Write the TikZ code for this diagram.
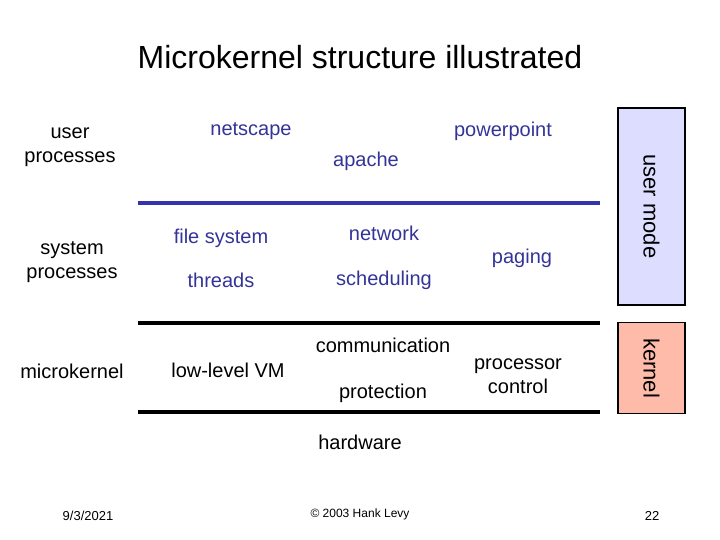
\documentclass[tikz,border=0pt]{standalone}
\usepackage{fontspec}
\setmainfont{Liberation Sans}
\usepackage{tikz}
\usetikzlibrary{positioning}
\definecolor{pieceblue}{RGB}{51,51,153}
\definecolor{ruleblue}{RGB}{51,51,170}
\definecolor{usermodefill}{RGB}{221,221,255}
\definecolor{kernelfill}{RGB}{255,187,170}

\begin{document}
\begin{tikzpicture}[x=1pt, y=-1pt, item/.style={inner sep=0pt, align=center, font=\fontsize{20}{24}\selectfont}, piece/.style={item, text=pieceblue}, layerline/.style={line width=4pt}, modebox/.style={draw=black, line width=1.5pt, rotate=-90, minimum height=67pt, inner sep=0pt, font=\fontsize{22}{26}\selectfont}, foot/.style={inner sep=0pt, font=\fontsize{13}{15}\selectfont}]
\useasboundingbox (0,0) rectangle (720,540);
\node[inner sep=0pt, font=\fontsize{32}{36}\selectfont] (title) at (360,57) {Microkernel structure illustrated};
\node[item] (userproc) at (70,147) {user\\processes};
\node[item] (sysproc) at (72,262) {system\\processes};
\node[item] (ukern) at (72,371) {microkernel};
\node[piece] (netscape) at (251,131) {netscape};
\node[piece] (powerpoint) at (503,131) {powerpoint};
\node[piece] (apache) at (366,161) {apache};
\node[piece] (filesys) at (221,238) {file system};
\node[piece] (threads) at (221,280) {threads};
\node[piece] (network) at (384,233) {network};
\node[piece] (sched) at (384,280) {scheduling};
\node[piece] (paging) at (522,258) {paging};
\node[item] (lowvm) at (228,370) {low-level VM};
\node[item] (comm) at (383,345) {communication};
\node[item] (prot) at (383,393) {protection};
\node[item] (procctl) at (518,376) {processor\\control};
\node[item] (hw) at (360,442) {hardware};
\coordinate (usertopl) at (138,203);
\coordinate (usertopr) at (600,203);
\coordinate (kerntopl) at (138,323);
\coordinate (kerntopr) at (600,323);
\coordinate (kernbotl) at (138,412);
\coordinate (kernbotr) at (600,412);
\draw[layerline, ruleblue] (usertopl) -- (usertopr);
\draw[layerline] (kerntopl) -- (kerntopr);
\draw[layerline] (kernbotl) -- (kernbotr);
\node[modebox, fill=usermodefill, minimum width=197pt] (umode) at (651.5,206.5) {user mode};
\node[modebox, fill=kernelfill, minimum width=91pt] (kmode) at (651.5,368) {kernel};
\node[foot] (date) at (88,516) {9/3/2021};
\node[foot, font=\fontsize{12}{14}\selectfont] (copy) at (360,514) {© 2003 Hank Levy};
\node[foot] (pageno) at (652,516) {22};
\end{tikzpicture}
\end{document}
